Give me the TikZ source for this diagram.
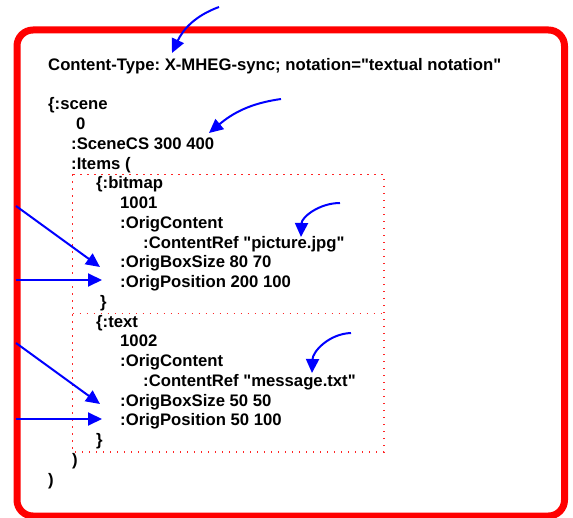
\documentclass[tikz,border=0pt]{standalone}
\usepackage{fontspec}
\setmainfont{Liberation Sans}[Ligatures=TeXOff]
\usetikzlibrary{arrows.meta}
\begin{document}
\frenchspacing
\begin{tikzpicture}[x=1pt,y=-1pt,
  code/.style={anchor=base west, inner sep=0pt, font=\frenchspacing\bfseries\fontsize{16.7}{19.74}\selectfont},
  pointer/.style={blue, line width=2pt, -{Triangle[length=14pt,width=13pt]}},
  frame/.style={red, line width=7pt, rounded corners=16pt},
  itembox/.style={red!85, line width=1.3pt, dash pattern=on 1.3pt off 5.7pt}]
\useasboundingbox (0,0) rectangle (573,518);
% outer frame
\draw[frame] (17,30) rectangle (564.5,516);
% dotted item boxes
\draw[itembox] (72.7,174.3) rectangle (384,452);
\draw[itembox] (72.7,313.3) -- (384,313.3);
% text
\node[code] (ct) at (48,71) {Content-Type: X-MHEG-sync; notation="textual notation"};
\node[code] (l0) at (48,110) {\{:scene};
\node[code] (l1) at (76,129.74) {0};
\node[code] (l2) at (71,149.48) {:SceneCS 300 400};
\node[code] (l3) at (71,169.22) {:Items (};
\node[code] (l4) at (96,188.96) {\{:bitmap};
\node[code] (l5) at (120,208.7) {1001};
\node[code] (l6) at (120,228.44) {:OrigContent};
\node[code] (l7) at (143,248.18) {:ContentRef "picture.jpg"};
\node[code] (l8) at (120,267.92) {:OrigBoxSize 80 70};
\node[code] (l9) at (120,287.66) {:OrigPosition 200 100};
\node[code] (l10) at (100,307.4) {\}};
\node[code] (l11) at (96,327.14) {\{:text};
\node[code] (l12) at (120,346.88) {1002};
\node[code] (l13) at (120,366.62) {:OrigContent};
\node[code] (l14) at (143,386.36) {:ContentRef "message.txt"};
\node[code] (l15) at (120,406.1) {:OrigBoxSize 50 50};
\node[code] (l16) at (120,425.84) {:OrigPosition 50 100};
\node[code] (l17) at (96,445.58) {\}};
\node[code] (l18) at (72,465.32) {)};
\node[code] (l19) at (48,485.06) {)};
% arrow end points
\coordinate (a1s) at (219,7);    \coordinate (a1e) at (172,53);
\coordinate (a2s) at (281,99);   \coordinate (a2e) at (209,133);
\coordinate (a3s) at (340,203);  \coordinate (a3e) at (301,237);
\coordinate (a4s) at (351,333);  \coordinate (a4e) at (312,373);
\coordinate (b1s) at (16,206);   \coordinate (b1e) at (100,267);
\coordinate (b2s) at (16,280);   \coordinate (b2e) at (102,280);
\coordinate (b3s) at (16,343);   \coordinate (b3e) at (100,404);
\coordinate (b4s) at (16,419);   \coordinate (b4e) at (102,419);
% arrows
\draw[pointer] (a1s) to[out=200,in=65] (a1e);
\draw[pointer] (a2s) to[out=188,in=40] (a2e);
\draw[pointer] (a3s) to[out=180,in=88] (a3e);
\draw[pointer] (a4s) to[out=182,in=88] (a4e);
\draw[pointer] (b1s) -- (b1e);
\draw[pointer] (b2s) -- (b2e);
\draw[pointer] (b3s) -- (b3e);
\draw[pointer] (b4s) -- (b4e);
\end{tikzpicture}
\end{document}
